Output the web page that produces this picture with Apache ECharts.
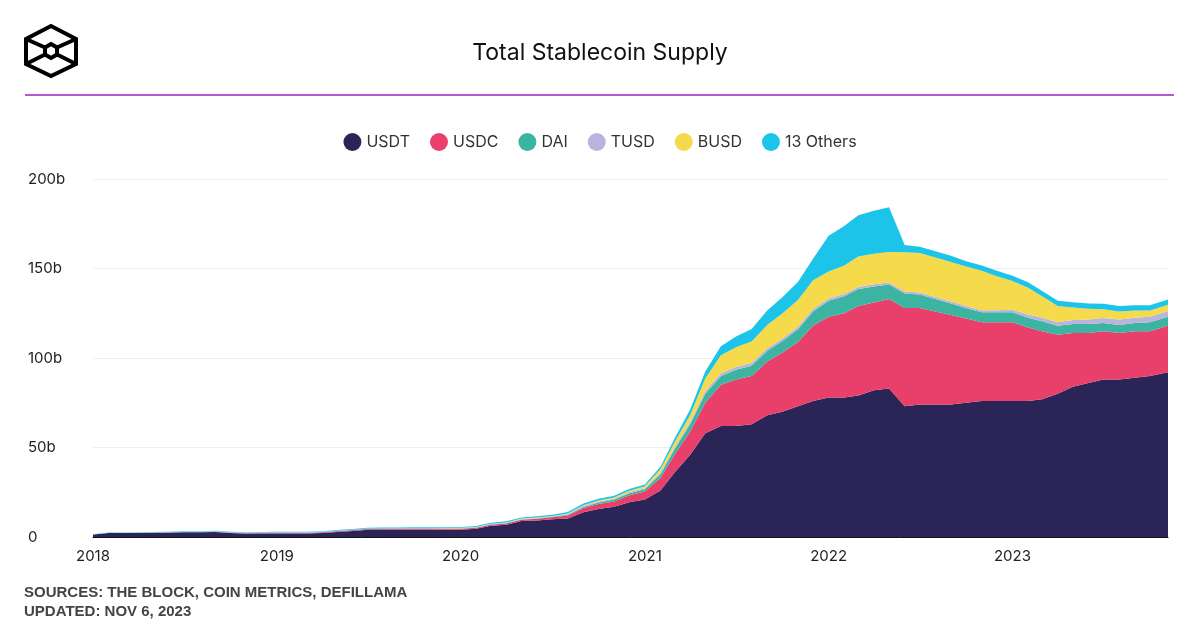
<!DOCTYPE html>
<html>
<head>
<meta charset="utf-8">
<script src="https://cdn.jsdelivr.net/npm/echarts@6/dist/echarts.min.js"></script>
<style>html,body{margin:0;padding:0;background:#fff}#main{width:1200px;height:630px}</style>
</head>
<body>
<div id="main"></div>
<script>
var years = [2018, 2019, 2020, 2021, 2022, 2023];
var usdt = [1.4,2.2,2.2,2.3,2.4,2.5,2.7,2.7,2.8,2.2,1.8,1.9,
  2.0,2.0,2.0,2.3,2.8,3.4,4.0,4.0,4.1,4.1,4.1,4.1,
  4.1,4.6,6.3,6.9,8.9,9.2,9.9,10.3,13.8,15.6,16.9,19.4,
  21,26,36,46,58,62,62,63,68,70,73,76,
  78,78,79,82,83,73,74,74,74,75,76,76,
  76,76,77,80,84,86,88,88,89,90,92];
var usdc = [0,0,0,0,0,0,0,0,0.1,0.2,0.3,0.3,
  0.3,0.3,0.3,0.3,0.4,0.4,0.5,0.5,0.5,0.5,0.5,0.5,
  0.5,0.5,0.6,0.7,0.8,1.0,1.2,1.7,2.4,2.8,3.0,3.9,
  4.4,7,10,13,17,23,26,27,30,33,36,42,
  45,47,50,49,50,55,54,52,50,47,44,44,
  44,41,38,33,30,28,27,26,26,25,26];
var dai = [0.05,0.05,0.05,0.05,0.06,0.06,0.06,0.06,0.06,0.07,0.07,0.08,
  0.08,0.09,0.09,0.09,0.1,0.1,0.1,0.1,0.1,0.1,0.1,0.1,
  0.1,0.1,0.1,0.12,0.12,0.13,0.2,0.4,0.6,0.9,1.0,1.2,
  1.3,2,3,4,5,5,5.5,5.7,6,6.5,7,8,
  9,9.5,9.5,9,8,8,7.5,7,6.5,6,5.5,5.5,
  5.5,5.5,5.5,5,5,5,4.5,4.5,4.5,5,5];
var tusd = [0.03,0.05,0.1,0.15,0.2,0.2,0.2,0.2,0.2,0.2,0.2,0.2,
  0.2,0.2,0.2,0.2,0.2,0.2,0.2,0.2,0.2,0.2,0.2,0.2,
  0.2,0.2,0.2,0.25,0.3,0.3,0.3,0.4,0.5,0.5,0.5,0.5,
  0.6,0.8,1,1.2,1.5,1.5,1.5,1.5,1.5,1.4,1.4,1.4,
  1.3,1.2,1.2,1.2,1.2,1.1,1.1,1.1,1.1,1.1,1.2,1.2,
  1.5,1.8,2.0,2.0,2.2,2.5,2.8,3.0,3.0,3.0,3.2];
var busd = [0,0,0,0,0,0,0,0,0,0,0,0,
  0,0,0,0,0,0,0,0,0.02,0.03,0.05,0.1,
  0.2,0.2,0.2,0.2,0.2,0.2,0.2,0.3,0.5,0.6,0.7,0.8,
  1,2,3,4,7,10,11,12,13,14,15,16,
  15,16,17,17,17,22,22,22,22,22,22,19,
  16,15,12,9,7,6,5,4.5,4,3.5,3.5];
var others = [0.1,0.15,0.2,0.2,0.2,0.2,0.25,0.25,0.3,0.3,0.3,0.3,
  0.3,0.3,0.3,0.35,0.4,0.4,0.4,0.45,0.45,0.5,0.5,0.5,
  0.5,0.5,0.6,0.6,0.6,0.7,0.7,0.8,0.9,1,1,1,
  1,1.5,2,3,4,5,6,7,8,9,10,12,
  20,22,23,24,25,4,3.5,3.5,3.5,3,3,3,
  3,3,3,3,3,3,3,3,3,3,3];
var seriesNames = ['USDT', 'USDC', 'DAI', 'TUSD', 'BUSD', '13 Others'];
var colors = ['#2b2557', '#e8406a', '#3cb4a2', '#b9b4dd', '#f5da4b', '#1cc4ea'];

function monthDates(n) {
  var out = [];
  for (var i = 0; i < n; i++) {
    var y = 2018 + Math.floor(i / 12), m = i % 12 + 1;
    out.push(y + '-' + (m < 10 ? '0' + m : m) + '-01');
  }
  return out;
}
var dates = monthDates(usdt.length);
dates[dates.length - 1] = '2023-11-06';

var raw = [usdt, usdc, dai, tusd, busd, others];
var series = raw.map(function (arr, k) {
  return {
    name: seriesNames[k],
    type: 'line',
    stack: 'total',
    symbol: 'none',
    lineStyle: { width: 0 },
    areaStyle: { color: colors[k], opacity: 1 },
    itemStyle: { color: colors[k] },
    data: arr.map(function (v, i) { return [dates[i], v]; })
  };
});

var chart = echarts.init(document.getElementById('main'));
var option = {
  animation: false,
  textStyle: { fontFamily: 'Inter, Roboto, sans-serif' },
  title: {
    text: 'Total Stablecoin Supply',
    left: 'center', top: 37,
    textStyle: { fontSize: 23, fontWeight: 'normal', color: '#111' }
  },
  legend: {
    top: 128, left: 'center',
    icon: 'circle', itemWidth: 18, itemHeight: 18, itemGap: 20,
    textStyle: { fontSize: 16, color: '#333' },
    data: seriesNames
  },
  grid: { left: 93, right: 32, top: 179, bottom: 93 },
  xAxis: {
    type: 'time',
    min: '2018-01-01', max: '2023-11-06',
    axisLine: { lineStyle: { color: '#111' } },
    axisTick: { show: false },
    splitLine: { show: false },
    axisLabel: {
      fontSize: 15, color: '#222', margin: 12,
      formatter: function (v) { return String(new Date(v).getFullYear()); }
    },
    interval: 365.25 * 24 * 3600 * 1000
  },
  yAxis: {
    type: 'value', min: 0, max: 200, interval: 50,
    axisLine: { show: false }, axisTick: { show: false },
    splitLine: { lineStyle: { color: '#eee' } },
    axisLabel: {
      fontSize: 15, color: '#222', align: 'left', margin: 65,
      formatter: function (v) { return v === 0 ? '0' : v + 'b'; }
    }
  },
  graphic: [
    { type: 'line', shape: { x1: 25, y1: 95, x2: 1174, y2: 95 }, style: { stroke: '#a020c0', lineWidth: 1.5 } },
    { type: 'polygon', shape: { points: [[51,26],[76,39],[76,64],[51,76],[26,64],[26,39]] }, style: { fill: 'none', stroke: '#000', lineWidth: 4 } },
    { type: 'polygon', shape: { points: [[51,44],[57,47.5],[57,54.5],[51,58],[45,54.5],[45,47.5]] }, style: { fill: 'none', stroke: '#000', lineWidth: 4 } },
    { type: 'polyline', shape: { points: [[26,39],[45,47.5]] }, style: { stroke: '#000', lineWidth: 4 } },
    { type: 'polyline', shape: { points: [[76,39],[57,47.5]] }, style: { stroke: '#000', lineWidth: 4 } },
    { type: 'polyline', shape: { points: [[26,64],[45,54.5]] }, style: { stroke: '#000', lineWidth: 4 } },
    { type: 'polyline', shape: { points: [[76,64],[57,54.5]] }, style: { stroke: '#000', lineWidth: 4 } },
    { type: 'text', left: 24, top: 585, style: { text: 'SOURCES: THE BLOCK, COIN METRICS, DEFILLAMA', fontSize: 15, fontWeight: 'bold', fill: '#444', fontFamily: 'Liberation Sans, Arial' } },
    { type: 'text', left: 24, top: 604, style: { text: 'UPDATED: NOV 6, 2023', fontSize: 15, fontWeight: 'bold', fill: '#444', fontFamily: 'Liberation Sans, Arial' } }
  ],
  series: series
};
chart.setOption(option);
</script>
</body>
</html>
